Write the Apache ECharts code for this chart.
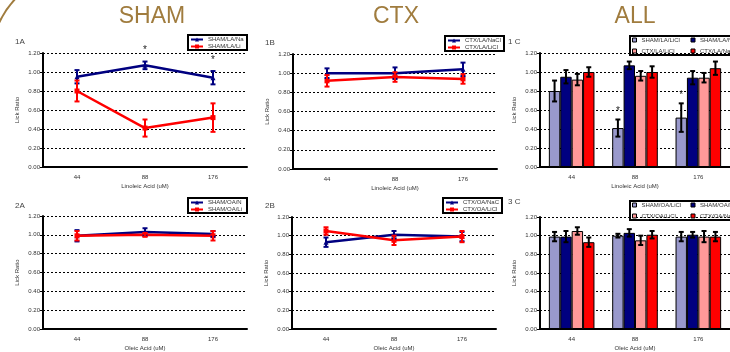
<!DOCTYPE html>
<html>
<head>
<meta charset="utf-8">
<script src="https://cdn.jsdelivr.net/npm/echarts@6/dist/echarts.min.js"></script>
<style>html,body{margin:0;padding:0;background:#fff}#c{width:730px;height:352px}</style>
</head>
<body>
<div id="c"></div>
<script>
// ---------- data ----------
const categories = ['44', '88', '176'];

// Linoleic acid (LA)
const shamLaNacl = [0.95, 1.07, 0.94];
const shamLaNaclErr = [0.07, 0.04, 0.07];
const shamLaLicl = [0.80, 0.41, 0.52];
const shamLaLiclErr = [0.11, 0.09, 0.15];
const ctxLaNacl = [1.00, 1.00, 1.04];
const ctxLaNaclErr = [0.05, 0.06, 0.07];
const ctxLaLicl = [0.92, 0.96, 0.94];
const ctxLaLiclErr = [0.06, 0.05, 0.05];
const sigShamLa = ['', '*', '*'];

// Oleic acid (OA)
const shamOaNacl = [0.99, 1.03, 1.01];
const shamOaNaclErr = [0.06, 0.04, 0.03];
const shamOaLicl = [0.99, 1.00, 0.99];
const shamOaLiclErr = [0.05, 0.02, 0.05];
const ctxOaNacl = [0.93, 1.01, 0.99];
const ctxOaNaclErr = [0.05, 0.04, 0.05];
const ctxOaLicl = [1.05, 0.95, 0.99];
const ctxOaLiclErr = [0.04, 0.05, 0.06];

const groupTitles = ['SHAM', 'CTX', 'ALL'];
const panelLabels = ['1A', '1B', '1 C', '2A', '2B', '3 C'];
const xNames = ['Linoleic Acid (uM)', 'Oleic Acid (uM)'];
const yName = 'Lick Ratio';

// ---------- style ----------
const NAVY = '#000080', RED = '#ff0000', LAV = '#9999cc', PINK = '#ff9999';
const BROWN = '#a07c3e';
const FONT = 'Liberation Sans';
const BAR_GAP = 0.28;

const grids = [
  {left: 43, top: 53, width: 204, height: 114},
  {left: 293, top: 54, width: 204, height: 115},
  {left: 540, top: 53, width: 192, height: 114},
  {left: 43, top: 216, width: 204, height: 117},
  {left: 292, top: 217, width: 204, height: 116},
  {left: 540, top: 217, width: 192, height: 115}
];

function xAxis(gi, name) {
  return {
    type: 'category', gridIndex: gi, data: categories,
    name: name, nameLocation: 'middle', nameGap: 16,
    nameTextStyle: {fontSize: 6, color: '#333', fontFamily: FONT},
    axisLine: {lineStyle: {color: '#000', width: 2}},
    axisTick: {inside: true, length: 3, lineStyle: {color: '#000', width: 1.5}},
    axisLabel: {fontSize: 6, color: '#333', margin: 7, fontFamily: FONT},
    splitLine: {show: false}
  };
}
function yAxis(gi) {
  return {
    type: 'value', gridIndex: gi, min: 0, max: 1.2, interval: 0.2,
    name: yName, nameLocation: 'middle', nameGap: 23, nameRotate: 90,
    nameTextStyle: {fontSize: 6, color: '#333', fontFamily: FONT},
    axisLine: {show: true, lineStyle: {color: '#000', width: 2}},
    axisTick: {show: true, length: 3, lineStyle: {color: '#000', width: 1}},
    axisLabel: {fontSize: 6, color: '#333', margin: 3, fontFamily: FONT,
      formatter: v => v.toFixed(2)},
    splitLine: {show: true, lineStyle: {color: '#000', width: 1, type: [2, 2]}}
  };
}

function lineSeries(gi, name, data, color, symbol) {
  return {
    type: 'line', name: name, xAxisIndex: gi, yAxisIndex: gi, data: data,
    color: color, lineStyle: {width: 2.5, color: color},
    symbol: symbol, symbolSize: 5, itemStyle: {color: color}, z: 3,
    animation: false
  };
}
function barSeries(gi, name, data, color) {
  return {
    type: 'bar', name: name, xAxisIndex: gi, yAxisIndex: gi, data: data,
    color: color, barGap: 0, barCategoryGap: (BAR_GAP * 100) + '%',
    itemStyle: {color: color, borderColor: '#000', borderWidth: 1},
    animation: false
  };
}
// error bars drawn through the axis scales
function errSeries(gi, means, errs, color, slot, nSlots, width) {
  const data = means.map((m, i) => [i, m - errs[i], m + errs[i]]);
  return {
    type: 'custom', xAxisIndex: gi, yAxisIndex: gi, data: data, z: 4,
    encode: {x: 0, y: [1, 2]}, animation: false, silent: true,
    renderItem: function (params, api) {
      const i = api.value(0);
      const lo = api.coord([i, api.value(1)]);
      const hi = api.coord([i, api.value(2)]);
      let dx = 0;
      if (nSlots) {
        const cw = api.size([1, 0])[0];
        const bw = cw * (1 - BAR_GAP) / nSlots;
        dx = (slot - (nSlots - 1) / 2) * bw;
      }
      const x = lo[0] + dx;
      const c = 2.5;
      const st = {stroke: color, lineWidth: width || 2};
      return {type: 'group', children: [
        {type: 'line', shape: {x1: x, y1: lo[1], x2: x, y2: hi[1]}, style: st},
        {type: 'line', shape: {x1: x - c, y1: lo[1], x2: x + c, y2: lo[1]}, style: st},
        {type: 'line', shape: {x1: x - c, y1: hi[1], x2: x + c, y2: hi[1]}, style: st}
      ]};
    }
  };
}
function sigSeries(gi, means, errs, marks, slot, nSlots, gapPx) {
  const data = means.map((m, i) => [i, m + errs[i]]);
  return {
    type: 'custom', xAxisIndex: gi, yAxisIndex: gi, data: data, z: 5,
    encode: {x: 0, y: 1}, animation: false, silent: true, clip: false,
    renderItem: function (params, api) {
      const i = api.value(0);
      const p = api.coord([i, api.value(1)]);
      let dx = 0;
      if (nSlots) {
        const cw = api.size([1, 0])[0];
        const bw = cw * (1 - BAR_GAP) / nSlots;
        dx = (slot - (nSlots - 1) / 2) * bw;
      }
      return {type: 'text', x: p[0] + dx, y: p[1] - gapPx, style: {
        text: marks[params.dataIndex], align: 'center',
        verticalAlign: 'middle', fontSize: 10, fill: '#222', fontFamily: FONT
      }};
    }
  };
}

function lineLegend(left, top, names) {
  return {
    left: left, top: top, orient: 'vertical', data: names, selectedMode: false,
    borderColor: '#000', borderWidth: 2, borderRadius: 0, padding: [1, 1, 0, 2],
    itemGap: 0, itemWidth: 12, itemHeight: 5,
    textStyle: {fontSize: 6, color: '#333', fontFamily: FONT, width: 38,
      overflow: 'truncate', ellipsis: '', lineHeight: 7}
  };
}
function barLegend(left, top, names, colors) {
  return {
    left: left, top: top, orient: 'horizontal', width: 115, selectedMode: false,
    data: names.map((n, k) => ({name: n, icon: 'rect',
      itemStyle: {color: colors[k], borderColor: '#000', borderWidth: 1}})),
    borderColor: '#000', borderWidth: 2, borderRadius: 0, padding: [1, 2, 1, 2],
    itemGap: 5, itemWidth: 4, itemHeight: 4,
    textStyle: {fontSize: 6, color: '#333', fontFamily: FONT, width: 44,
      overflow: 'truncate', ellipsis: '', lineHeight: 6}
  };
}

const laNames = ['SHAM/LA/LiCl', 'SHAM/LA/NaCl', 'CTX/LA/LiCl', 'CTX/LA/NaCl'];
const oaNames = ['SHAM/OA/LiCl', 'SHAM/OA/NaCl', 'CTX/OA/LiCl', 'CTX/OA/NaCl'];
const barColors = [LAV, NAVY, PINK, RED];

const series = [
  // 1A
  lineSeries(0, 'SHAM/LA/NaCl', shamLaNacl, NAVY, 'triangle'),
  lineSeries(0, 'SHAM/LA/LiCl', shamLaLicl, RED, 'rect'),
  errSeries(0, shamLaNacl, shamLaNaclErr, NAVY),
  errSeries(0, shamLaLicl, shamLaLiclErr, RED),
  sigSeries(0, shamLaNacl, shamLaNaclErr, sigShamLa, 0, 0, 11),
  // 1B
  lineSeries(1, 'CTX/LA/NaCl', ctxLaNacl, NAVY, 'triangle'),
  lineSeries(1, 'CTX/LA/LiCl', ctxLaLicl, RED, 'rect'),
  errSeries(1, ctxLaNacl, ctxLaNaclErr, NAVY),
  errSeries(1, ctxLaLicl, ctxLaLiclErr, RED),
  // 2A
  lineSeries(3, 'SHAM/OA/NaCl', shamOaNacl, NAVY, 'triangle'),
  lineSeries(3, 'SHAM/OA/LiCl', shamOaLicl, RED, 'rect'),
  errSeries(3, shamOaNacl, shamOaNaclErr, NAVY),
  errSeries(3, shamOaLicl, shamOaLiclErr, RED),
  // 2B
  lineSeries(4, 'CTX/OA/NaCl', ctxOaNacl, NAVY, 'triangle'),
  lineSeries(4, 'CTX/OA/LiCl', ctxOaLicl, RED, 'rect'),
  errSeries(4, ctxOaNacl, ctxOaNaclErr, NAVY),
  errSeries(4, ctxOaLicl, ctxOaLiclErr, RED),
];
// 1C bars
const laMeans = [shamLaLicl, shamLaNacl, ctxLaLicl, ctxLaNacl];
const laErrs = [shamLaLiclErr, shamLaNaclErr, ctxLaLiclErr, ctxLaNaclErr];
laNames.forEach((n, k) => series.push(barSeries(2, n, laMeans[k], barColors[k])));
laNames.forEach((n, k) => series.push(errSeries(2, laMeans[k], laErrs[k], '#000', k, 4, 2)));
series.push(sigSeries(2, shamLaLicl, shamLaLiclErr, sigShamLa, 0, 4, 8));
// 3C bars
const oaMeans = [shamOaLicl, shamOaNacl, ctxOaLicl, ctxOaNacl];
const oaErrs = [shamOaLiclErr, shamOaNaclErr, ctxOaLiclErr, ctxOaNaclErr];
oaNames.forEach((n, k) => series.push(barSeries(5, n, oaMeans[k], barColors[k])));
oaNames.forEach((n, k) => series.push(errSeries(5, oaMeans[k], oaErrs[k], '#000', k, 4, 2)));

const labelPos = [[15, 38], [265, 39], [508, 38], [15, 202], [265, 202], [508, 198]];
const titleCenters = [152, 396, 635];

const graphic = [
  {type: 'arc', shape: {cx: 80, cy: 60, r: 89, startAngle: Math.PI, endAngle: Math.PI * 1.5},
   style: {stroke: BROWN, lineWidth: 2, fill: null}, silent: true}
];
groupTitles.forEach((t, k) => graphic.push({
  type: 'text', x: titleCenters[k], y: 17,
  style: {text: t, fontSize: 23, fontFamily: FONT, fill: BROWN, align: 'center', verticalAlign: 'middle'}
}));
panelLabels.forEach((t, k) => graphic.push({
  type: 'text', x: labelPos[k][0], y: labelPos[k][1],
  style: {text: t, fontSize: 8, fontFamily: FONT, fill: '#444', align: 'left', verticalAlign: 'top'}
}));

const option = {
  animation: false,
  textStyle: {fontFamily: FONT},
  grid: grids,
  xAxis: [xAxis(0, xNames[0]), xAxis(1, xNames[0]), xAxis(2, xNames[0]),
          xAxis(3, xNames[1]), xAxis(4, xNames[1]), xAxis(5, xNames[1])],
  yAxis: [0, 1, 2, 3, 4, 5].map(yAxis),
  legend: [
    lineLegend(188, 35, ['SHAM/LA/NaCl', 'SHAM/LA/LiCl']),
    lineLegend(445, 36, ['CTX/LA/NaCl', 'CTX/LA/LiCl']),
    barLegend(630, 36, laNames, barColors),
    lineLegend(188, 198, ['SHAM/OA/NaCl', 'SHAM/OA/LiCl']),
    lineLegend(443, 198, ['CTX/OA/NaCl', 'CTX/OA/LiCl']),
    barLegend(630, 201, oaNames, barColors)
  ],
  graphic: graphic,
  series: series
};
const chart = echarts.init(document.getElementById('c'), null, {renderer: 'canvas'});
chart.setOption(option);
</script>
</body>
</html>
